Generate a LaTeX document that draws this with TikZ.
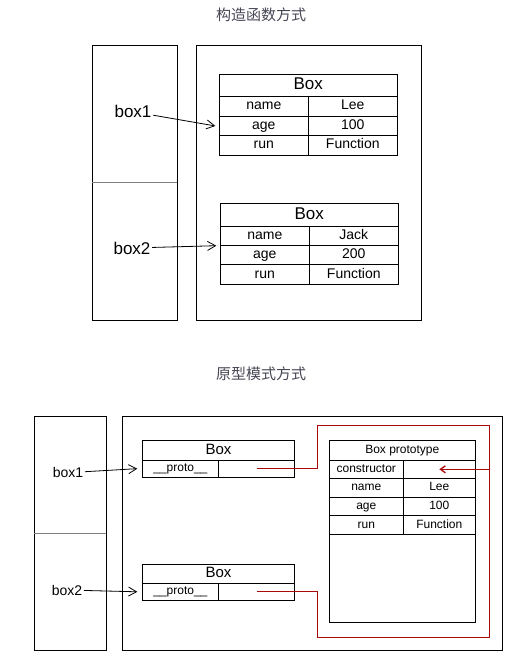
\documentclass[tikz,border=0pt]{standalone}
\usepackage{fontspec}
\setmainfont{Liberation Sans}
\newfontfamily\cjk{Noto Sans CJK SC}
\usepackage{tikz}
\usetikzlibrary{arrows.meta,positioning}
\newcommand{\setpx}[1]{\fontsize{#1}{#1}\selectfont}
\definecolor{linkred}{RGB}{170,10,10}
\definecolor{headgray}{RGB}{70,70,85}
\tikzstyle{heading}=[text=headgray,font=\cjk\setpx{15}]
\tikzstyle{block}=[draw,line width=1pt,inner sep=0pt,outer sep=0pt]
\tikzstyle{cell}=[draw,line width=1pt,inner sep=0pt,outer sep=0pt,minimum width=89pt,minimum height=19.5pt,text height=10pt,text depth=3pt,font=\setpx{14}]
\tikzstyle{bighead}=[text height=12pt,text depth=3.6pt,font=\setpx{17}]
\tikzstyle{pcell}=[draw,line width=1pt,inner sep=0pt,outer sep=0pt,minimum height=18.6pt,text height=8.6pt,text depth=2.6pt,font=\setpx{12}]
\tikzstyle{varname}=[inner sep=1.5pt]
\tikzstyle{ptr}=[draw,line width=0.8pt,-{Straight Barb[length=8pt,width=9pt]}]
\tikzstyle{link}=[draw=linkred,line width=1.3pt]

\begin{document}
\begin{tikzpicture}[x=1pt,y=-1pt]
  \useasboundingbox (0,0) rectangle (518,664);
  % constructor version
  \node[heading] (title1) at (261,15) {构造函数方式};
  \node[block,minimum width=85pt,minimum height=275pt] (stack1) at (134.8,182.8) {};
  \draw[gray,line width=0.8pt] (stack1.west) -- (stack1.east);
  \node[block,minimum width=225pt,minimum height=275pt] (heap1) at (308.8,182.8) {};

  \node[cell,bighead,minimum width=178pt,minimum height=22.4pt] (t1head) at (308.3,85.5) {Box};
  \node[cell,below right=0pt of t1head.south west] (t1name) {name};
  \node[cell,right=0pt of t1name] (t1nameval) {Lee};
  \node[cell,below=0pt of t1name] (t1age) {age};
  \node[cell,right=0pt of t1age] (t1ageval) {100};
  \node[cell,below=0pt of t1age] (t1run) {run};
  \node[cell,right=0pt of t1run] (t1runval) {Function};

  \node[cell,bighead,minimum width=178pt,minimum height=23pt] (t2head) at (309.3,215) {Box};
  \node[cell,minimum height=19.2pt,below right=0pt of t2head.south west] (t2name) {name};
  \node[cell,minimum height=19.2pt,right=0pt of t2name] (t2nameval) {Jack};
  \node[cell,minimum height=19.2pt,below=0pt of t2name] (t2age) {age};
  \node[cell,minimum height=19.2pt,right=0pt of t2age] (t2ageval) {200};
  \node[cell,minimum height=19.2pt,below=0pt of t2age] (t2run) {run};
  \node[cell,minimum height=19.2pt,right=0pt of t2run] (t2runval) {Function};

  \node[varname,font=\setpx{17}] (box1) at (133,111.7) {box1};
  \node[varname,font=\setpx{17}] (box2) at (132,248) {box2};
  \draw[ptr] (box1) -- ([xshift=-4pt]t1age.west);
  \draw[ptr] (box2) -- ([xshift=-4pt]t2name.south west);

  % prototype version
  \node[heading] (title2) at (261,373.3) {原型模式方式};
  \node[block,minimum width=72pt,minimum height=233.6pt] (stack2) at (70.3,533.5) {};
  \draw[gray,line width=0.8pt] (stack2.west) -- (stack2.east);
  \node[block,minimum width=379.6pt,minimum height=233.6pt] (heap2) at (312.5,533.5) {};

  \node[pcell,minimum width=152.4pt,minimum height=19.7pt,text height=10.8pt,text depth=3pt,font=\setpx{15}] (ahead) at (218.5,450.15) {Box};
  \node[pcell,minimum width=76.2pt,minimum height=17.3pt,below right=0pt of ahead.south west] (aproto) {\_\_proto\_\_};
  \node[pcell,minimum width=76.2pt,minimum height=17.3pt,right=0pt of aproto] (aptr) {};

  \node[pcell,minimum width=152.4pt,minimum height=19pt,text height=10.8pt,text depth=3pt,font=\setpx{15}] (bhead) at (218.5,573.8) {Box};
  \node[pcell,minimum width=76.2pt,minimum height=17pt,below right=0pt of bhead.south west] (bproto) {\_\_proto\_\_};
  \node[pcell,minimum width=76.2pt,minimum height=17pt,right=0pt of bproto] (bptr) {};

  \node[block,minimum width=146pt,minimum height=182pt] (proto) at (402.3,531.3) {};
  \node[pcell,minimum width=146pt,minimum height=19.7pt,below=0pt of proto.north] (phead) {Box prototype};
  \node[pcell,minimum width=74pt,below right=0pt of phead.south west] (pctor) {constructor};
  \node[pcell,minimum width=72pt,right=0pt of pctor] (pctorval) {};
  \node[pcell,minimum width=74pt,below=0pt of pctor] (pname) {name};
  \node[pcell,minimum width=72pt,right=0pt of pname] (pnameval) {Lee};
  \node[pcell,minimum width=74pt,below=0pt of pname] (page) {age};
  \node[pcell,minimum width=72pt,right=0pt of page] (pageval) {100};
  \node[pcell,minimum width=74pt,below=0pt of page] (prun) {run};
  \node[pcell,minimum width=72pt,right=0pt of prun] (prunval) {Function};

  \node[varname,font=\setpx{14}] (pbox1) at (68,472.7) {box1};
  \node[varname,font=\setpx{14}] (pbox2) at (67,590) {box2};
  \draw[ptr] (pbox1) -- ([xshift=-5pt]aproto.west);
  \draw[ptr] (pbox2) -- ([xshift=-5pt]bproto.west);

  \coordinate (loopnw) at (317.3,425.7);
  \coordinate (loopse) at (489.3,637.3);
  \draw[link] (aptr.center) -| (loopnw) -| (loopse) -| (loopnw |- bptr.center) -- (bptr.center);
  \draw[link,-{Straight Barb[length=5pt,width=7pt]}] (loopse |- pctorval) -- (pctorval.center);
\end{tikzpicture}
\end{document}
